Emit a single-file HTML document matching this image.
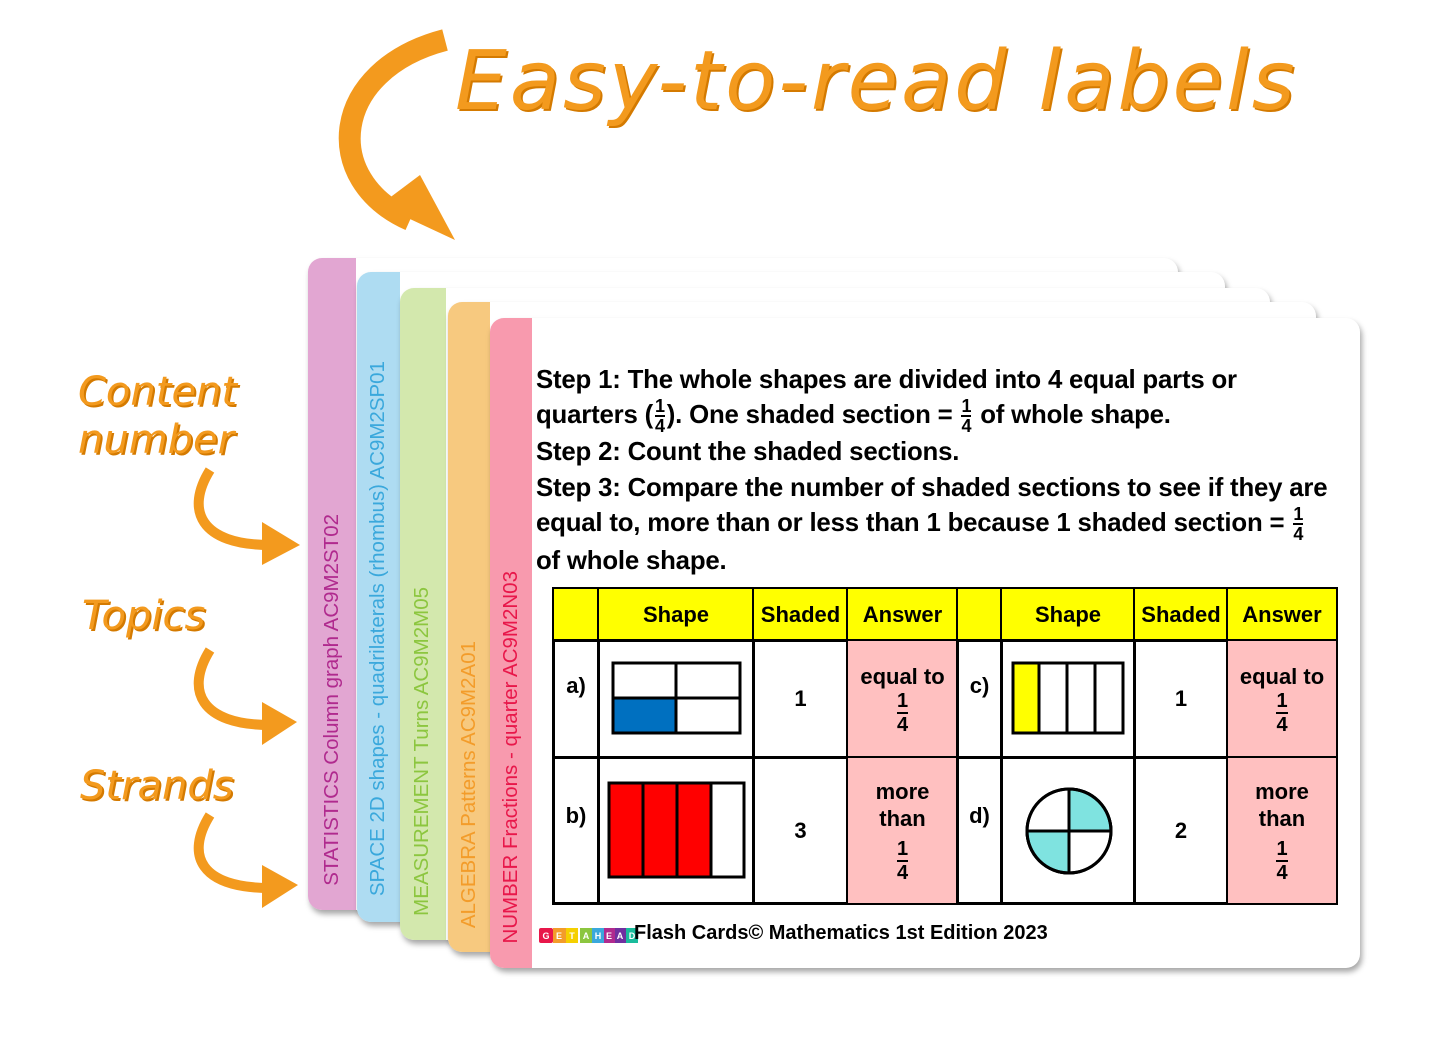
<!DOCTYPE html>
<html><head><meta charset="utf-8"><style>
body{margin:0;width:1445px;height:1041px;background:#fff;position:relative;overflow:hidden;font-family:"Liberation Sans",sans-serif}
.card{position:absolute;background:#fff;border-radius:14px;box-shadow:2px 4px 6px rgba(0,0,0,.35);overflow:hidden}
.strip{position:absolute;left:0;top:0;bottom:0}
.vt{position:absolute;bottom:24px;writing-mode:vertical-rl;transform:rotate(180deg);font-size:20.5px;white-space:nowrap}
.txt{position:absolute;left:536px;font-weight:bold;font-size:25.8px;color:#000;white-space:nowrap;letter-spacing:-0.2px}
.fr{display:inline-block;vertical-align:middle;text-align:center;font-size:18px;line-height:18px;margin:0 2px}
.fr span{display:block}.fr span:first-child{border-bottom:2px solid #000}
.c{position:absolute;border:2.5px solid #000;box-sizing:border-box;display:flex;align-items:center;justify-content:center;text-align:center;font-weight:bold;font-size:22px}
.h{background:#ffff00}.p{background:#ffc0c0;flex-direction:column;line-height:27px}
.lab{position:absolute;color:#f39a1e;font-family:"DejaVu Sans",sans-serif;font-style:oblique;font-size:40px;text-shadow:2px 2px 0 #d47a00, -1px -1px 0 #fff;line-height:48px}
</style></head><body>

<svg width="1445" height="1041" style="position:absolute;left:0;top:0">
<path d="M445,40 C330,70 320,180 410,220" stroke="#f39a1e" stroke-width="22" fill="none"/>
<polygon points="380,205 455,240 420,175" fill="#f39a1e"/>
<g stroke="#f39a1e" stroke-width="10" fill="none">
<path d="M210,470 C185,510 200,545 270,545"/>
<path d="M210,650 C185,690 200,725 270,725"/>
<path d="M210,815 C185,855 200,888 270,888"/>
</g>
<g fill="#f39a1e">
<polygon points="262,522 300,545 262,565"/>
<polygon points="262,702 297,722 262,745"/>
<polygon points="262,865 298,885 262,908"/>
</g>
</svg>

<div style="position:absolute;left:455px;top:34px;color:#f39a1e;font-family:'DejaVu Sans',sans-serif;font-style:oblique;font-size:82px;letter-spacing:3px;text-shadow:2px 2px 0 #d47a00;white-space:nowrap">Easy-to-read labels</div>
<div class="lab" style="left:78px;top:368px">Content<br>number</div>
<div class="lab" style="left:82px;top:592px">Topics</div>
<div class="lab" style="left:80px;top:762px">Strands</div>

<div class="card" style="left:308px;top:258px;width:870px;height:652px"><div class="strip" style="width:48px;background:#e2a6d2"></div><div class="vt" style="left:12px;color:#b02a8e">STATISTICS Column graph AC9M2ST02</div></div>
<div class="card" style="left:357px;top:272px;width:868px;height:650px"><div class="strip" style="width:43px;background:#aedcf2"></div><div class="vt" style="left:9px;bottom:26px;color:#3aa8dc">SPACE 2D shapes - quadrilaterals (rhombus) AC9M2SP01</div></div>
<div class="card" style="left:400px;top:288px;width:870px;height:652px"><div class="strip" style="width:46px;background:#d3e8ad"></div><div class="vt" style="left:10px;color:#8cc63f">MEASUREMENT Turns AC9M2M05</div></div>
<div class="card" style="left:448px;top:302px;width:868px;height:650px"><div class="strip" style="width:42px;background:#f7c97f"></div><div class="vt" style="left:9px;color:#f39c2a">ALGEBRA Patterns AC9M2A01</div></div>
<div class="card" style="left:490px;top:318px;width:870px;height:650px"><div class="strip" style="width:42px;background:#f89aae"></div><div class="vt" style="left:9px;color:#e8174a">NUMBER Fractions - quarter AC9M2N03</div></div>

<div class="txt" style="top:366px">Step 1: The whole shapes are divided into 4 equal parts or</div>
<div class="txt" style="top:397px">quarters (<span class="fr"><span>1</span><span>4</span></span>). One shaded section = <span class="fr"><span>1</span><span>4</span></span> of whole shape.</div>
<div class="txt" style="top:438px">Step 2: Count the shaded sections.</div>
<div class="txt" style="top:474px">Step 3: Compare the number of shaded sections to see if they are</div>
<div class="txt" style="top:505px">equal to, more than or less than 1 because 1 shaded section = <span class="fr"><span>1</span><span>4</span></span></div>
<div class="txt" style="top:547px">of whole shape.</div>

<div style="position:absolute;left:552px;top:587px;width:786px;height:318px;border:3px solid #000;box-sizing:border-box"></div>
<div class="c h" style="left:552px;top:587px;width:48px;height:55px"></div>
<div class="c h" style="left:597px;top:587px;width:158px;height:55px">Shape</div>
<div class="c h" style="left:752px;top:587px;width:97px;height:55px">Shaded</div>
<div class="c h" style="left:846px;top:587px;width:113px;height:55px">Answer</div>
<div class="c h" style="left:956px;top:587px;width:47px;height:55px"></div>
<div class="c h" style="left:1000px;top:587px;width:136px;height:55px">Shape</div>
<div class="c h" style="left:1133px;top:587px;width:96px;height:55px">Shaded</div>
<div class="c h" style="left:1226px;top:587px;width:112px;height:55px">Answer</div>
<div class="c" style="left:552px;top:639px;width:48px;height:120px;align-items:flex-start;padding-top:32px">a)</div>
<div class="c" style="left:597px;top:639px;width:158px;height:120px"></div>
<div class="c" style="left:752px;top:639px;width:97px;height:120px">1</div>
<div class="c p" style="left:846px;top:639px;width:113px;height:120px">equal to<span class="fr" style="font-size:20px;line-height:22px"><span>1</span><span>4</span></span></div>
<div class="c" style="left:956px;top:639px;width:47px;height:120px;align-items:flex-start;padding-top:32px">c)</div>
<div class="c" style="left:1000px;top:639px;width:136px;height:120px"></div>
<div class="c" style="left:1133px;top:639px;width:96px;height:120px">1</div>
<div class="c p" style="left:1226px;top:639px;width:112px;height:120px">equal to<span class="fr" style="font-size:20px;line-height:22px"><span>1</span><span>4</span></span></div>
<div class="c" style="left:552px;top:756px;width:48px;height:149px;align-items:flex-start;padding-top:45px">b)</div>
<div class="c" style="left:597px;top:756px;width:158px;height:149px"></div>
<div class="c" style="left:752px;top:756px;width:97px;height:149px">3</div>
<div class="c p" style="left:846px;top:756px;width:113px;height:149px">more<br>than<span class="fr" style="font-size:20px;line-height:22px;margin-top:6px"><span>1</span><span>4</span></span></div>
<div class="c" style="left:956px;top:756px;width:47px;height:149px;align-items:flex-start;padding-top:45px">d)</div>
<div class="c" style="left:1000px;top:756px;width:136px;height:149px"></div>
<div class="c" style="left:1133px;top:756px;width:96px;height:149px">2</div>
<div class="c p" style="left:1226px;top:756px;width:112px;height:149px">more<br>than<span class="fr" style="font-size:20px;line-height:22px;margin-top:6px"><span>1</span><span>4</span></span></div>

<svg width="1445" height="1041" style="position:absolute;left:0;top:0">
<g stroke="#000" stroke-width="3">
<rect x="613" y="663" width="127" height="70" fill="#fff"/>
<rect x="613" y="698" width="63" height="35" fill="#0070c0"/>
<line x1="676" y1="663" x2="676" y2="733"/><line x1="613" y1="698" x2="740" y2="698"/>
<rect x="1013" y="663" width="110" height="70" fill="#fff"/>
<rect x="1013" y="663" width="26" height="70" fill="#ffff00"/>
<line x1="1067" y1="663" x2="1067" y2="733"/><line x1="1095" y1="663" x2="1095" y2="733"/>
<rect x="609" y="783" width="135" height="94" fill="#fff"/>
<rect x="609" y="783" width="34" height="94" fill="#ff0000"/>
<rect x="643" y="783" width="34" height="94" fill="#ff0000"/>
<rect x="677" y="783" width="34" height="94" fill="#ff0000"/>
<circle cx="1069" cy="831" r="42" fill="#fff"/>
<path d="M1069,831 L1069,789 A42,42 0 0 1 1111,831 Z" fill="#7fe3e0"/>
<path d="M1069,831 L1069,873 A42,42 0 0 1 1027,831 Z" fill="#7fe3e0"/>
<circle cx="1069" cy="831" r="42" fill="none"/>
<line x1="1027" y1="831" x2="1111" y2="831"/><line x1="1069" y1="789" x2="1069" y2="873"/>
</g>
<g font-family="Liberation Sans" font-size="9" font-weight="bold" fill="#fff" text-anchor="middle">
<rect x="539" y="928" width="14" height="15" rx="2" fill="#e8174a"/><text x="546" y="939">G</text>
<rect x="553" y="928" width="13" height="15" fill="#f39c2a"/><text x="559" y="939">E</text>
<rect x="566" y="928" width="12" height="15" fill="#f5d000"/><text x="572" y="939">T</text>
<rect x="580" y="928" width="12" height="15" fill="#8cc63f"/><text x="586" y="939">A</text>
<rect x="592" y="928" width="12" height="15" fill="#3aa8dc"/><text x="598" y="939">H</text>
<rect x="604" y="928" width="11" height="15" fill="#b02a8e"/><text x="609" y="939">E</text>
<rect x="615" y="928" width="11" height="15" fill="#7030a0"/><text x="620" y="939">A</text>
<rect x="626" y="928" width="12" height="15" fill="#1abc9c"/><text x="632" y="939">D</text>
</g>
</svg>
<div style="position:absolute;left:634px;top:922px;font-size:20px;font-weight:bold;white-space:nowrap">Flash Cards© Mathematics 1st Edition 2023</div>
</body></html>
